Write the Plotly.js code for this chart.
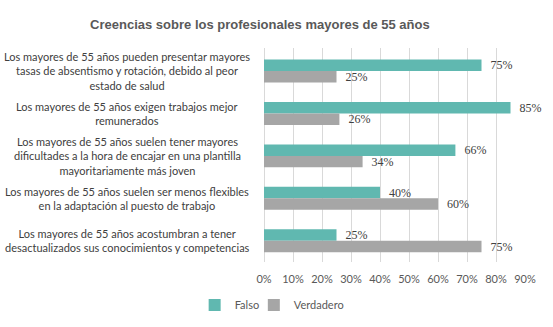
<!DOCTYPE html>
<html>
<head>
<meta charset="utf-8">
<script src="https://cdn.plot.ly/plotly-3.0.1.min.js"></script>
<style>html,body{margin:0;padding:0;background:#fff;}#chart{width:553px;height:327px;}</style>
</head>
<body>
<div id="chart"></div>
<script>
var categories = [
  "Los mayores de 55 años pueden presentar mayores<br>tasas de absentismo y rotación, debido al peor<br>estado de salud",
  "Los mayores de 55 años exigen trabajos mejor<br>remunerados",
  "Los mayores de 55 años suelen tener mayores<br>dificultades a la hora de encajar en una plantilla<br>mayoritariamente más joven",
  "Los mayores de 55 años suelen ser menos flexibles<br>en la adaptación al puesto de trabajo",
  "Los mayores de 55 años acostumbran a tener<br>desactualizados sus conocimientos y competencias"
];
var falso = [0.75, 0.85, 0.66, 0.40, 0.25];
var verdadero = [0.25, 0.26, 0.34, 0.60, 0.75];
var tickVals = [0, 0.1, 0.2, 0.3, 0.4, 0.5, 0.6, 0.7, 0.8, 0.9];
var tickText = ["0%", "10%", "20%", "30%", "40%", "50%", "60%", "70%", "80%", "90%"];

function pct(arr) { return arr.map(function (v) { return "\u00a0\u00a0" + Math.round(v * 100) + "%"; }); }

var labelFont = {family: "Liberation Serif, serif", size: 12, color: "#404040"};
var legendFont = {family: "Lato, sans-serif", size: 11, color: "#595959"};

var traces = [
  {type: "bar", orientation: "h", name: "Falso", y: categories, x: falso,
   marker: {color: "#60b8b0"}, text: pct(falso), textposition: "outside", legend: "legend",
   constraintext: "none", textfont: labelFont, cliponaxis: false, hoverinfo: "none"},
  {type: "bar", orientation: "h", name: "Verdadero", y: categories, x: verdadero,
   marker: {color: "#a6a6a6"}, text: pct(verdadero), textposition: "outside", legend: "legend2",
   constraintext: "none", textfont: labelFont, cliponaxis: false, hoverinfo: "none"}
];

var annotations = categories.map(function (c) {
  return {xref: "paper", yref: "y", x: -0.523, y: c, text: c, showarrow: false,
          xanchor: "center", yanchor: "middle", align: "center",
          font: {family: "Lato, sans-serif", size: 11, color: "#404040"}};
});

var layout = {
  width: 553, height: 327,
  margin: {l: 264, r: 28, t: 48, b: 65, autoexpand: false},
  paper_bgcolor: "#ffffff", plot_bgcolor: "#ffffff",
  title: {text: "<b>Creencias sobre los profesionales mayores de 55 años</b>",
          font: {family: "Liberation Sans, Arial, sans-serif", size: 13, color: "#595959"},
          x: 0.47, xanchor: "center", y: 0.925, yanchor: "middle"},
  barmode: "group", bargap: 0.46, bargroupgap: 0,
  xaxis: {range: [0, 0.9], tickvals: tickVals, ticktext: tickText, automargin: false,
          showgrid: true, gridcolor: "#d9d9d9", gridwidth: 1, zeroline: true,
          zerolinecolor: "#d9d9d9", showline: false, ticks: "", ticklabelstandoff: 9,
          tickfont: {family: "Lato, sans-serif", size: 11, color: "#595959"}},
  yaxis: {autorange: "reversed", showticklabels: false, ticks: "", showgrid: false,
          zeroline: false, showline: false, automargin: false},
  showlegend: true,
  legend: {orientation: "h", xref: "container", yref: "container",
           x: 0.352, xanchor: "left", y: 0.067, yanchor: "middle",
           bgcolor: "rgba(0,0,0,0)", font: legendFont, itemwidth: 30},
  legend2: {orientation: "h", xref: "container", yref: "container",
            x: 0.459, xanchor: "left", y: 0.067, yanchor: "middle",
            bgcolor: "rgba(0,0,0,0)", font: legendFont, itemwidth: 30},
  annotations: annotations
};

Plotly.newPlot("chart", traces, layout, {displayModeBar: false, staticPlot: true});
</script>
</body>
</html>
